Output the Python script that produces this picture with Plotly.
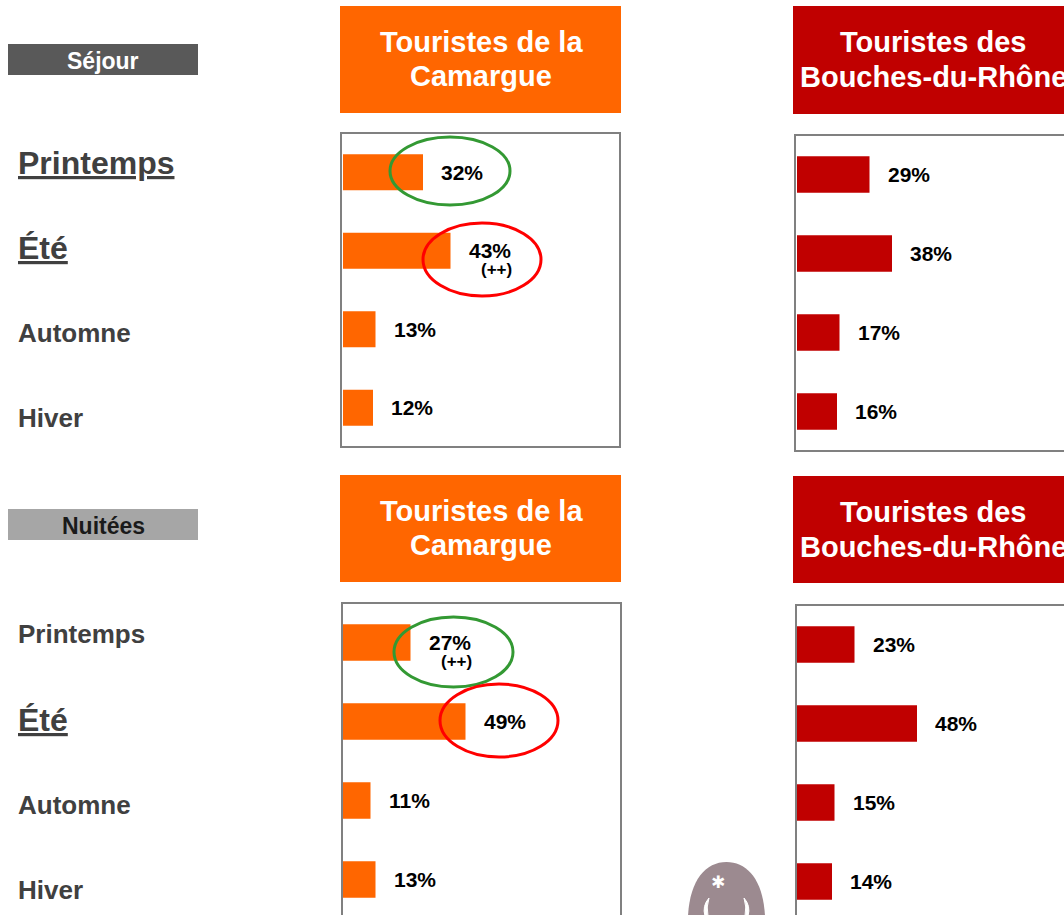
import plotly.graph_objects as go

W, H = 1064, 915

# ---------------- data ----------------
seasons = ["Printemps", "Été", "Automne", "Hiver"]
sejour_camargue = [32, 43, 13, 12]
sejour_bdr = [29, 38, 17, 16]
nuitees_camargue = [27, 49, 11, 13]
nuitees_bdr = [23, 48, 15, 14]
sig_sejour_camargue = ["", "(++)", "", ""]
sig_nuitees_camargue = ["(++)", "", "", ""]
sig_none = ["", "", "", ""]

header_camargue = ["Touristes de la", "Camargue"]
header_bdr = ["Touristes des", "Bouches-du-Rhône"]
section_labels = ["Séjour", "Nuitées"]

ORANGE = "#FF6600"
RED = "#C00000"
FONT = "Liberation Sans, Arial, sans-serif"
LABEL_GREY = "#404040"
PX_PER_PCT = 2.5


def px(x):
    return x / W


def py(y):
    return 1 - y / H


panels = [
    dict(values=sejour_camargue, sig=sig_sejour_camargue, color=ORANGE,
         x0=343, x1=619, y0=133, y1=447, slot=78.5, box=(341, 133, 620, 447)),
    dict(values=sejour_bdr, sig=sig_none, color=RED,
         x0=797, x1=1064, y0=135, y1=451, slot=79, box=(795, 135, 1100, 451)),
    dict(values=nuitees_camargue, sig=sig_nuitees_camargue, color=ORANGE,
         x0=343, x1=619, y0=603, y1=915, slot=79, box=(342, 603, 621, 940)),
    dict(values=nuitees_bdr, sig=sig_none, color=RED,
         x0=797, x1=1064, y0=605, y1=915, slot=79, box=(796, 605, 1100, 940)),
]

fig = go.Figure()
shapes = []
annotations = []
layout_axes = {}

for i, p in enumerate(panels, start=1):
    sx = "" if i == 1 else str(i)
    fig.add_trace(go.Bar(
        x=p["values"], y=seasons, orientation="h",
        marker=dict(color=p["color"], line=dict(width=0)),
        width=0.46, xaxis="x" + sx, yaxis="y" + sx, hoverinfo="skip",
    ))
    layout_axes["xaxis" + sx] = dict(
        domain=[px(p["x0"]), px(p["x1"])],
        range=[0, (p["x1"] - p["x0"]) / PX_PER_PCT],
        showgrid=False, zeroline=False, showticklabels=False, ticks="",
        showline=False, fixedrange=True,
        anchor="y" + sx,
    )
    layout_axes["yaxis" + sx] = dict(
        domain=[py(p["y1"]), py(p["y0"])],
        range=[(p["y1"] - p["y0"]) / p["slot"] - 0.5, -0.5],
        type="category", categoryorder="array", categoryarray=seasons,
        showgrid=False, zeroline=False, showticklabels=False, ticks="",
        showline=False, fixedrange=True,
        anchor="x" + sx,
    )
    bx0, by0, bx1, by1 = p["box"]
    shapes.append(dict(type="rect", xref="paper", yref="paper",
                       x0=px(bx0), x1=px(bx1), y0=py(by1), y1=py(by0),
                       line=dict(color="#808080", width=2), fillcolor="rgba(0,0,0,0)",
                       layer="above"))
    for v, s, sg in zip(p["values"], seasons, p["sig"]):
        annotations.append(dict(
            x=v, y=s, xref="x" + sx, yref="y" + sx, text=f"<b>{v}%</b>",
            showarrow=False, xanchor="left", yanchor="middle", xshift=16,
            font=dict(family=FONT, size=21, color="#000000"),
        ))
        if sg:
            annotations.append(dict(
                x=v, y=s, xref="x" + sx, yref="y" + sx, text=f"<b>{sg}</b>",
                showarrow=False, xanchor="left", yanchor="middle",
                xshift=28, yshift=-19,
                font=dict(family=FONT, size=17, color="#000000"),
            ))

# ---------------- headers ----------------
headers = [
    (header_camargue, ORANGE, (340, 6, 621, 113), 481, (42, 76)),
    (header_bdr, RED, (793, 6, 1100, 114), 933, (42, 77)),
    (header_camargue, ORANGE, (340, 475, 621, 582), 481, (511, 545)),
    (header_bdr, RED, (793, 476, 1100, 583), 933, (512, 547)),
]
for lines, col, (x0, y0, x1, y1), cx, ys in headers:
    shapes.append(dict(type="rect", xref="paper", yref="paper",
                       x0=px(x0), x1=px(x1), y0=py(y1), y1=py(y0),
                       line=dict(width=0), fillcolor=col, layer="below"))
    for t, yy in zip(lines, ys):
        annotations.append(dict(
            x=px(cx), y=py(yy), xref="paper", yref="paper", text=f"<b>{t}</b>",
            showarrow=False, xanchor="center", yanchor="middle",
            font=dict(family=FONT, size=29, color="#FFFFFF"),
        ))

# ---------------- section boxes ----------------
section_boxes = [
    (section_labels[0], "#595959", "#FFFFFF", (8, 44, 198, 75)),
    (section_labels[1], "#A6A6A6", "#1A1A1A", (8, 509, 198, 540)),
]
for t, bg, fg, (x0, y0, x1, y1) in section_boxes:
    shapes.append(dict(type="rect", xref="paper", yref="paper",
                       x0=px(x0), x1=px(x1), y0=py(y1), y1=py(y0),
                       line=dict(width=0), fillcolor=bg, layer="below"))
    annotations.append(dict(
        x=px((x0 + x1) / 2), y=py((y0 + y1) / 2 + 1), xref="paper", yref="paper",
        text=f"<b>{t}</b>", showarrow=False, xanchor="center", yanchor="middle",
        font=dict(family=FONT, size=23, color=fg),
    ))

# ---------------- row labels ----------------
row_labels = [
    ("Printemps", True, 163), ("Été", True, 248), ("Automne", False, 333), ("Hiver", False, 418),
    ("Printemps", False, 634), ("Été", True, 720), ("Automne", False, 805), ("Hiver", False, 890),
]
for t, big, yy in row_labels:
    txt = f"<b><u>{t}</u></b>" if big else f"<b>{t}</b>"
    annotations.append(dict(
        x=px(16), y=py(yy), xref="paper", yref="paper", text=txt,
        showarrow=False, xanchor="left", yanchor="middle",
        font=dict(family=FONT, size=32 if big else 26, color=LABEL_GREY),
    ))

# ---------------- highlight ellipses ----------------
ellipses = [
    ("#339933", (390, 137, 510, 205)),
    ("#FF0000", (423, 223, 541, 296)),
    ("#339933", (394, 617, 513, 687)),
    ("#FF0000", (440, 684, 558, 757)),
]
for col, (x0, y0, x1, y1) in ellipses:
    shapes.append(dict(type="circle", xref="paper", yref="paper",
                       x0=px(x0), x1=px(x1), y0=py(y1), y1=py(y0),
                       line=dict(color=col, width=3), fillcolor="rgba(0,0,0,0)",
                       layer="above"))

# ---------------- logo (decorative) ----------------
def P(x, y):
    return f"{px(x):.5f},{py(y):.5f}"

egg = (f"M {P(688, 930)} C {P(686, 885)} {P(703, 862)} {P(726.5, 862)} "
       f"C {P(750, 862)} {P(767, 885)} {P(765, 930)} Z")
shapes.append(dict(type="path", xref="paper", yref="paper", path=egg,
                   fillcolor="#9C8A90", line=dict(width=0), layer="above"))
horn_l = f"M {P(709, 898)} Q {P(702, 906)} {P(705, 916)} L {P(708, 916)} Q {P(706, 907)} {P(709, 898)} Z"
horn_r = f"M {P(744, 898)} Q {P(751, 906)} {P(748, 916)} L {P(745, 916)} Q {P(747, 907)} {P(744, 898)} Z"
for hp in (horn_l, horn_r):
    shapes.append(dict(type="path", xref="paper", yref="paper", path=hp,
                       fillcolor="#FFFFFF", line=dict(color="#FFFFFF", width=1), layer="above"))
annotations.append(dict(
    x=px(718), y=py(882), xref="paper", yref="paper", text="✱",
    showarrow=False, xanchor="center", yanchor="middle",
    font=dict(family="DejaVu Sans", size=17, color="#FFFFFF"),
))

fig.update_layout(
    width=W, height=H, margin=dict(l=0, r=0, t=0, b=0),
    paper_bgcolor="white", plot_bgcolor="white",
    showlegend=False, barmode="overlay",
    shapes=shapes, annotations=annotations,
    **layout_axes,
)

fig.write_html(
    "out.html",
    config={"displayModeBar": False},
    post_script="document.body.style.margin='0';document.body.style.overflow='hidden';",
)
